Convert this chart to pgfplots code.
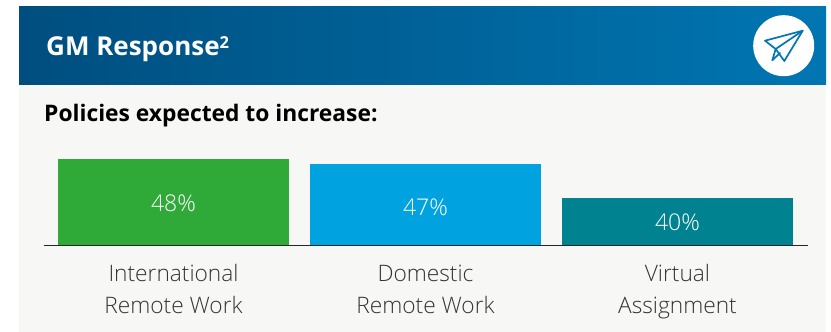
\documentclass[border=0pt]{standalone}
\usepackage{fontspec}
\setmainfont{Open Sans}
\newfontfamily\lightfont{Open Sans Light}
\usepackage{pgfplots}
\pgfplotsset{compat=1.18}
\definecolor{panelbg}{HTML}{F7F7F5}
\definecolor{headL}{HTML}{004E7F}
\definecolor{headR}{HTML}{0076B2}
\definecolor{barA}{HTML}{2FAA39}
\definecolor{barB}{HTML}{00A3E0}
\definecolor{barC}{HTML}{008290}
\definecolor{labelgrey}{HTML}{333333}
\begin{document}
\begin{tikzpicture}[x=1pt,y=1pt]
\useasboundingbox (0,0) rectangle (831,332);
% panel and header band
\fill[panelbg] (19,0) rectangle (826,247);
\shade[left color=headL,right color=headR] (19,247) rectangle (826,325);
\node[anchor=base west,inner sep=0,text=white,font=\fontsize{26}{30}\selectfont\bfseries] at (46,276) {GM Response\raisebox{7.3pt}{\fontsize{16.5}{16.5}\selectfont 2}};
\node[anchor=base west,inner sep=0,text=black,font=\fontsize{22.8}{27}\selectfont\bfseries] at (44,210) {Policies expected to increase:};
% paper plane badge
\fill[white] (783.7,286.3) circle (30.5);
\begin{scope}[draw=headR,line width=1.7pt,line join=round,line cap=round]
\draw (802.7,301.3) -- (765,291.3) -- (775.7,283) -- (784.3,271) -- cycle;
\draw (802.7,301.3) -- (775.7,283) -- (772.3,271.7) -- (780,279);
\end{scope}
\begin{axis}[
  at={(43.5pt,86.5pt)},anchor=south west,
  scale only axis,width=764.5pt,height=100pt,
  xmin=-0.516,xmax=2.518,
  ymin=30.36,ymax=50.87,
  axis x line=bottom,axis y line=none,
  x axis line style={-,draw=black!85,line width=1pt},
  xtick={0,1,2},
  xticklabels={{International\\Remote Work},{Domestic\\Remote Work},{Virtual\\Assignment}},
  major tick length=0pt,
  xticklabel style={align=center,text=labelgrey,anchor=north,yshift=-47pt,
    text height=17pt,text depth=40pt,
    font=\lightfont\fontsize{22.7}{32}\selectfont},
  ybar,bar width=231pt,bar shift=0pt,
  /pgf/number format/assume math mode=true,
  nodes near coords={\pgfmathprintnumber{\pgfplotspointmeta}\%},
  every node near coord/.append style={anchor=center,text=white,
    font=\lightfont\fontsize{23}{27}\selectfont},
  clip=false,
]
\addplot[fill=barA,draw=none,every node near coord/.append style={yshift=-44pt}] coordinates {(0,48)};
\addplot[fill=barB,draw=none,every node near coord/.append style={yshift=-42.5pt}] coordinates {(1,47)};
\addplot[fill=barC,draw=none,every node near coord/.append style={yshift=-23.5pt}] coordinates {(2,40)};
\end{axis}
\end{tikzpicture}
\end{document}
